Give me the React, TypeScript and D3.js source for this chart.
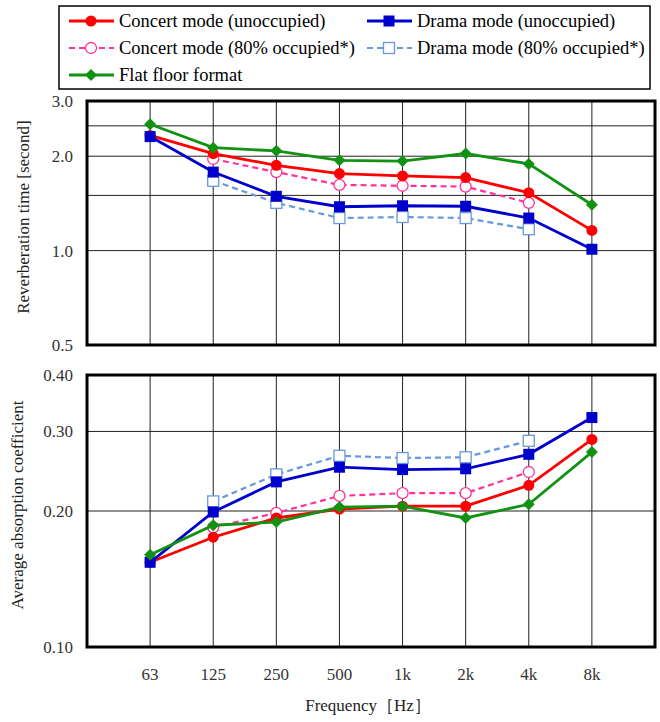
import * as d3 from 'd3';

// categories
const freqs = ['63', '125', '250', '500', '1k', '2k', '4k', '8k'];

// reverberation time [s] (null = not measured)
const rtConcert = [2.33, 2.04, 1.87, 1.76, 1.73, 1.71, 1.53, 1.16];
const rtDrama = [2.31, 1.78, 1.49, 1.38, 1.39, 1.385, 1.27, 1.01];
const rtConcertOcc = [null, 1.96, 1.78, 1.62, 1.61, 1.6, 1.42, null];
const rtDramaOcc = [null, 1.67, 1.42, 1.27, 1.28, 1.27, 1.17, null];
const rtFlat = [2.53, 2.13, 2.08, 1.94, 1.93, 2.04, 1.89, 1.4];

// average absorption coefficient
const acConcert = [0.154, 0.175, 0.193, 0.202, 0.205, 0.205, 0.228, 0.288];
const acDrama = [0.154, 0.199, 0.232, 0.25, 0.247, 0.248, 0.267, 0.322];
const acConcertOcc = [null, 0.184, 0.198, 0.216, 0.219, 0.219, 0.244, null];
const acDramaOcc = [null, 0.21, 0.241, 0.265, 0.262, 0.263, 0.286, null];
const acFlat = [0.16, 0.186, 0.189, 0.204, 0.205, 0.193, 0.207, 0.27];

// axis ticks
const rtGrid = [0.5, 1.0, 1.5, 2.0, 2.5, 3.0];
const rtLabels = [0.5, 1.0, 2.0, 3.0];
const acGrid = [0.1, 0.2, 0.3, 0.4];

const legendLabels = [
  'Concert mode (unoccupied)',
  'Drama mode (unoccupied)',
  'Concert mode (80% occupied*)',
  'Drama mode (80% occupied*)',
  'Flat floor format',
];

type Style = { color: string; dash?: string; marker: 'circle' | 'square' | 'diamond'; open?: boolean };

const styles: Record<string, Style> = {
  concert: { color: '#ff0000', marker: 'circle' },
  drama: { color: '#0000cc', marker: 'square' },
  concertOcc: { color: '#ff3399', dash: '6 4', marker: 'circle', open: true },
  dramaOcc: { color: '#6699dd', dash: '6 4', marker: 'square', open: true },
  flat: { color: '#129212', marker: 'diamond' },
};

const font = 'Liberation Serif, DejaVu Serif, serif';

function Marker({ x, y, s }: { x: number; y: number; s: Style }) {
  const fill = s.open ? '#fff' : s.color;
  const sw = s.open ? 1.3 : 0;
  if (s.marker === 'circle') return <circle cx={x} cy={y} r={5.5} fill={fill} stroke={s.color} strokeWidth={sw} />;
  if (s.marker === 'square') return <rect x={x - 5.5} y={y - 5.5} width={11} height={11} fill={fill} stroke={s.color} strokeWidth={sw} />;
  return <path d={`M${x},${y - 6}L${x + 6},${y}L${x},${y + 6}L${x - 6},${y}Z`} fill={fill} />;
}

function Series({ vals, s, x, y }: { vals: (number | null)[]; s: Style; x: any; y: any }) {
  const line = d3
    .line<number | null>()
    .defined(d => d != null)
    .x((_, i) => x(freqs[i]))
    .y(d => y(d as number));
  return (
    <g>
      <path d={line(vals) || ''} fill="none" stroke={s.color} strokeWidth={s.dash ? 2.2 : 2.8} strokeDasharray={s.dash} />
      {vals.map((v, i) => (v == null ? null : <Marker key={i} x={x(freqs[i])} y={y(v)} s={s} />))}
    </g>
  );
}

export default function App() {
  const width = 660;
  const height = 722;
  const left = 87;
  const right = 655;

  const x = d3.scalePoint<string>().domain(freqs).range([left, right]).padding(1);
  const yTop = d3.scaleLog().domain([0.5, 3]).range([345, 101]);
  const yBot = d3.scaleLog().domain([0.1, 0.4]).range([647, 375]);

  const panel = (y: any, grid: number[], labels: number[], fmt: (v: number) => string, top: number, bottom: number, sets: [ (number | null)[], Style ][], title: string, titleX: number) => (
    <g>
      {grid.map(v => (
        <line key={v} x1={left} x2={right} y1={y(v)} y2={y(v)} stroke="#222" strokeWidth={1} />
      ))}
      {freqs.map(f => (
        <line key={f} x1={x(f)} x2={x(f)} y1={top} y2={bottom} stroke="#222" strokeWidth={1} />
      ))}
      {labels.map(v => (
        <text key={v} x={left - 14} y={y(v)} dy="0.35em" textAnchor="end" fontSize={17} fill="#333">
          {fmt(v)}
        </text>
      ))}
      <text
        transform={`translate(${titleX},${(top + bottom) / 2 - 6}) rotate(-90)`}
        textAnchor="middle"
        dy="0.35em"
        fontSize={17}
        fill="#222"
      >
        {title}
      </text>
      {sets.map(([vals, s], i) => (
        <Series key={i} vals={vals} s={s} x={x} y={y} />
      ))}
      <rect x={left} y={top} width={right - left} height={bottom - top} fill="none" stroke="#000" strokeWidth={3} />
    </g>
  );

  const legendItems: [string, Style, number, number][] = [
    [legendLabels[0], styles.concert, 69, 21],
    [legendLabels[1], styles.drama, 367, 21],
    [legendLabels[2], styles.concertOcc, 69, 48],
    [legendLabels[3], styles.dramaOcc, 367, 48],
    [legendLabels[4], styles.flat, 69, 75],
  ];

  return (
    <svg width={width} height={height} fontFamily={font} style={{ position: 'absolute', left: 0, top: 0 }}>
      <rect width={width} height={height} fill="#fff" />
      {/* legend */}
      <rect x={59} y={6} width={591} height={83} fill="#fff" stroke="#000" strokeWidth={1.5} />
      {legendItems.map(([label, s, lx, ly]) => (
        <g key={label}>
          <line x1={lx} x2={lx + 45} y1={ly} y2={ly} stroke={s.color} strokeWidth={s.dash ? 2.2 : 2.8} strokeDasharray={s.dash} />
          <Marker x={lx + 22} y={ly} s={s} />
          <text x={lx + 50} y={ly} dy="0.35em" fontSize={18.5} fill="#000">
            {label}
          </text>
        </g>
      ))}

      {panel(
        yTop,
        rtGrid,
        rtLabels,
        d3.format('.1f'),
        101,
        345,
        [
          [rtDramaOcc, styles.dramaOcc],
          [rtConcertOcc, styles.concertOcc],
          [rtConcert, styles.concert],
          [rtDrama, styles.drama],
          [rtFlat, styles.flat],
        ],
        'Reverberation time [second]',
        23
      )}

      {panel(
        yBot,
        acGrid,
        acGrid,
        d3.format('.2f'),
        375,
        647,
        [
          [acDramaOcc, styles.dramaOcc],
          [acConcertOcc, styles.concertOcc],
          [acConcert, styles.concert],
          [acDrama, styles.drama],
          [acFlat, styles.flat],
        ],
        'Average absorption coefficient',
        17
      )}

      {freqs.map(f => (
        <text key={f} x={x(f)} y={674} dy="0.35em" textAnchor="middle" fontSize={17} fill="#333">
          {f}
        </text>
      ))}
      <text x={368} y={705} dy="0.35em" textAnchor="middle" fontSize={17} fill="#222">
        Frequency［Hz］
      </text>
    </svg>
  );
}
